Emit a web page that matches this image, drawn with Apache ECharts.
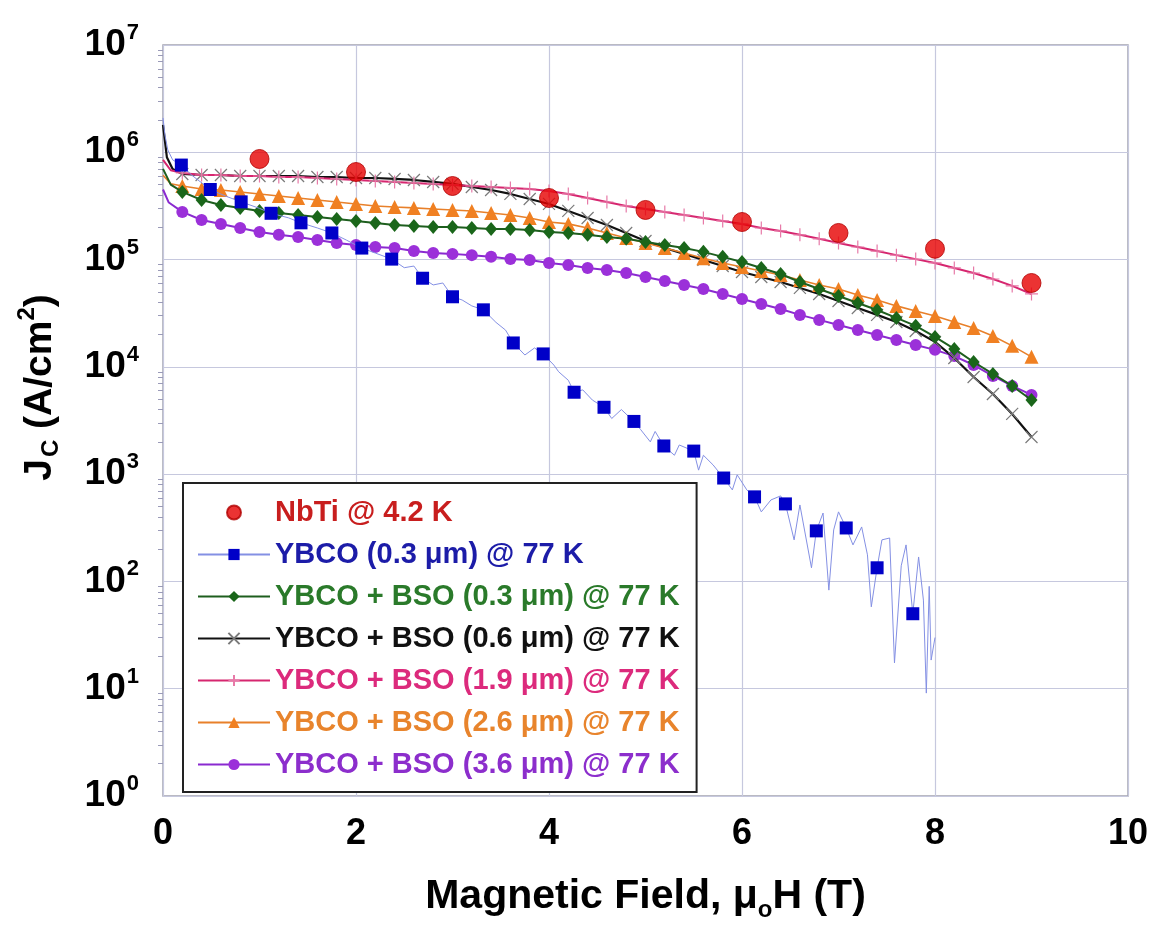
<!DOCTYPE html>
<html>
<head>
<meta charset="utf-8">
<title>Jc vs field</title>
<script src="https://cdn.jsdelivr.net/npm/echarts@6.0.0/dist/echarts.min.js"></script>
<style>
  html, body { margin: 0; padding: 0; background: #fff; }
  #chart { width: 1155px; height: 940px; }
</style>
</head>
<body>
<div id="chart"></div>
<script>
// field values (T) where the BSO samples have markers
const fieldX = [0.2, 0.4, 0.6, 0.8, 1.0, 1.2, 1.4, 1.6, 1.8, 2.0, 2.2, 2.4, 2.6, 2.8, 3.0,
  3.2, 3.4, 3.6, 3.8, 4.0, 4.2, 4.4, 4.6, 4.8, 5.0, 5.2, 5.4, 5.6, 5.8, 6.0,
  6.2, 6.4, 6.6, 6.8, 7.0, 7.2, 7.4, 7.6, 7.8, 8.0, 8.2, 8.4, 8.6, 8.8, 9.0];

// NbTi @ 4.2 K
const nbtiX = [1, 2, 3, 4, 5, 6, 7, 8, 9];
const nbtiY = [8.66e5, 6.55e5, 4.85e5, 3.75e5, 2.90e5, 2.24e5, 1.77e5, 1.26e5, 6.05e4];

// YBCO (0.3 um): square markers + noisy trace
const ybcoSqX = [0.19, 0.49, 0.81, 1.12, 1.43, 1.75, 2.06, 2.37, 2.69, 3.0, 3.32, 3.63, 3.94,
  4.26, 4.57, 4.88, 5.19, 5.5, 5.81, 6.13, 6.45, 6.77, 7.08, 7.4, 7.77];
const ybcoSqY = [7.6e5, 4.5e5, 3.45e5, 2.7e5, 2.2e5, 1.77e5, 1.28e5, 1.01e5, 6.7e4, 4.5e4, 3.4e4,
  1.67e4, 1.32e4, 5.8e3, 4.2e3, 3.1e3, 1.83e3, 1.64e3, 920, 614, 528, 296, 315, 134, 50];
const ybcoTraceX = [0, 0.02, 0.05, 0.1, 0.3, 0.65, 1.0, 1.3, 1.6, 1.9, 2.2, 2.5, 2.6, 2.8, 2.9,
  3.1, 3.2, 3.45, 3.55, 3.75, 3.85, 4.05, 4.1, 4.2, 4.35, 4.45, 4.65, 4.75, 4.95, 5.05,
  5.1, 5.3, 5.35, 5.55, 5.6, 5.7, 5.9, 5.95, 6.05, 6.2, 6.3, 6.4, 6.54, 6.6, 6.72,
  6.84, 6.9, 6.95, 7.0, 7.15, 7.24, 7.3, 7.34, 7.45, 7.53, 7.58, 7.65, 7.7, 7.83, 7.88,
  7.91, 7.94, 7.96, 8.0];
const ybcoTraceY = [2.09e6, 1.45e6, 1.05e6, 8.5e5, 6.1e5, 3.9e5, 3.0e5, 2.45e5, 1.97e5, 1.52e5,
  1.15e5, 8.4e4, 8.7e4, 5.8e4, 6.05e4, 4.2e4, 3.7e4, 2.6e4, 2.2e4, 1.29e4,
  1.5e4, 1.04e4, 9.0e3, 7.5e3, 6.1e3, 4.9e3, 3.3e3, 4.0e3, 2.6e3, 2.0e3,
  2.5e3, 1.5e3, 1.87e3, 1.09e3, 1.5e3, 1.22e3, 713, 985, 713, 445,
  575, 627, 244, 516, 134, 434, 83, 302, 445, 219,
  322, 177, 58, 244, 254, 17.4, 140, 219, 169, 67,
  9.1, 90, 18.5, 30];

// YBCO + BSO samples (lead = unmarked start of the curve near 0 T)
const bso03LeadX = [0, 0.08];
const bso03LeadY = [7.0e5, 5.0e5];
const bso03Y = [4.27e5, 3.59e5, 3.23e5, 3.03e5, 2.84e5, 2.72e5, 2.60e5, 2.49e5, 2.39e5, 2.29e5,
  2.19e5, 2.10e5, 2.06e5, 2.01e5, 2.01e5, 1.97e5, 1.93e5, 1.93e5, 1.89e5, 1.81e5,
  1.77e5, 1.70e5, 1.62e5, 1.56e5, 1.46e5, 1.37e5, 1.28e5, 1.18e5, 1.06e5, 9.50e4,
  8.35e4, 7.34e4, 6.18e4, 5.32e4, 4.58e4, 3.94e4, 3.39e4, 2.86e4, 2.41e4, 1.90e4,
  1.47e4, 1.11e4, 8.59e3, 6.64e3, 4.91e3];

const bso06LeadX = [0, 0.04, 0.1];
const bso06LeadY = [1.8e6, 9.0e5, 7.0e5];
const bso06Y = [6.28e5, 6.14e5, 6.14e5, 6.01e5, 6.01e5, 6.01e5, 6.01e5, 5.88e5, 5.88e5, 5.76e5,
  5.76e5, 5.64e5, 5.52e5, 5.29e5, 5.07e5, 4.75e5, 4.45e5, 4.09e5, 3.67e5, 3.30e5,
  2.84e5, 2.44e5, 2.10e5, 1.77e5, 1.49e5, 1.28e5, 1.13e5, 9.92e4, 8.71e4, 7.66e4,
  6.88e4, 6.18e4, 5.44e4, 4.78e4, 4.11e4, 3.54e4, 3.05e4, 2.62e4, 2.16e4, 1.71e4,
  1.21e4, 8.05e3, 5.59e3, 3.64e3, 2.22e3];

const bso19LeadX = [0, 0.08];
const bso19LeadY = [8.5e5, 6.8e5];
const bso19Y = [6.41e5, 6.14e5, 6.14e5, 6.01e5, 6.01e5, 5.88e5, 5.88e5, 5.76e5, 5.64e5, 5.52e5,
  5.40e5, 5.29e5, 5.18e5, 5.07e5, 4.96e5, 4.85e5, 4.75e5, 4.65e5, 4.55e5, 4.36e5,
  4.09e5, 3.75e5, 3.44e5, 3.16e5, 2.96e5, 2.78e5, 2.60e5, 2.44e5, 2.29e5, 2.15e5,
  1.97e5, 1.85e5, 1.70e5, 1.56e5, 1.43e5, 1.31e5, 1.20e5, 1.10e5, 1.01e5, 9.30e4,
  8.35e4, 7.50e4, 6.59e4, 5.68e4, 4.78e4];

const bso26LeadX = [0, 0.08];
const bso26LeadY = [6.1e5, 5.1e5];
const bso26Y = [4.85e5, 4.55e5, 4.45e5, 4.27e5, 4.09e5, 3.91e5, 3.75e5, 3.59e5, 3.44e5, 3.30e5,
  3.16e5, 3.09e5, 3.03e5, 2.96e5, 2.90e5, 2.84e5, 2.72e5, 2.60e5, 2.44e5, 2.24e5,
  2.15e5, 1.97e5, 1.77e5, 1.59e5, 1.43e5, 1.28e5, 1.15e5, 1.03e5, 9.30e4, 8.53e4,
  7.83e4, 7.19e4, 6.45e4, 5.80e4, 5.32e4, 4.68e4, 4.20e4, 3.70e4, 3.32e4, 2.98e4,
  2.62e4, 2.30e4, 1.94e4, 1.57e4, 1.24e4];

const bso36LeadX = [0, 0.06];
const bso36LeadY = [4.5e5, 3.4e5];
const bso36Y = [2.78e5, 2.34e5, 2.15e5, 1.97e5, 1.81e5, 1.70e5, 1.62e5, 1.52e5, 1.43e5, 1.37e5,
  1.31e5, 1.28e5, 1.20e5, 1.15e5, 1.13e5, 1.10e5, 1.06e5, 1.01e5, 9.92e4, 9.30e4,
  8.91e4, 8.35e4, 8.00e4, 7.50e4, 6.88e4, 6.32e4, 5.80e4, 5.32e4, 4.78e4, 4.29e4,
  3.86e4, 3.46e4, 3.05e4, 2.74e4, 2.46e4, 2.21e4, 1.98e4, 1.78e4, 1.60e4, 1.44e4,
  1.26e4, 1.04e4, 8.23e3, 6.64e3, 5.47e3];

const xTicks = [0, 2, 4, 6, 8, 10];

// 把 lead 点（无标记）和带标记的点拼起来
const curve = (leadX, leadY, ys) =>
  leadX.map((x, i) => ({ value: [x, leadY[i]], symbol: 'none' }))
    .concat(fieldX.map((x, i) => ({ value: [x, ys[i]] })));

const ybcoData = ybcoTraceX.map((x, i) => ({ value: [x, ybcoTraceY[i]], symbol: 'none' }))
  .concat(ybcoSqX.map((x, i) => ({ value: [x, ybcoSqY[i]] })))
  .sort((a, b) => a.value[0] - b.value[0]);

const FONT = "'Liberation Sans', Arial, sans-serif";

const chart = echarts.init(document.getElementById('chart'));
chart.setOption({
  animation: false,
  backgroundColor: '#fff',
  textStyle: { fontFamily: FONT },
  grid: {
    left: 163, right: 27, top: 45, bottom: 144,
    show: true,
    borderColor: '#a4a4b0',
    borderWidth: 1.5,
  },
  legend: {
    orient: 'vertical',
    left: 183,
    top: 483,
    padding: [15, 17, 13, 14],
    itemWidth: 72,
    itemHeight: 14,
    itemGap: 13,
    backgroundColor: '#fff',
    borderColor: '#222',
    borderWidth: 2,
    selectedMode: false,
    textStyle: { fontSize: 29, fontWeight: 'bold', fontFamily: FONT },
    data: [
      { name: 'NbTi @ 4.2 K', textStyle: { color: '#c81e1e' } },
      { name: 'YBCO (0.3 μm) @ 77 K', textStyle: { color: '#1c1ca8' } },
      { name: 'YBCO + BSO (0.3 μm) @ 77 K', textStyle: { color: '#2a7a2a' } },
      { name: 'YBCO + BSO (0.6 μm) @ 77 K', textStyle: { color: '#111' } },
      { name: 'YBCO + BSO (1.9 μm) @ 77 K', textStyle: { color: '#dc2a7c' } },
      { name: 'YBCO + BSO (2.6 μm) @ 77 K', textStyle: { color: '#e8842c' } },
      { name: 'YBCO + BSO (3.6 μm) @ 77 K', textStyle: { color: '#8c2ecc' } },
    ],
  },
  xAxis: {
    type: 'value',
    min: xTicks[0],
    max: xTicks[xTicks.length - 1],
    interval: 2,
    axisLine: { show: false },
    axisTick: { show: false },
    splitLine: { lineStyle: { color: '#c6c8de', width: 1.2 } },
    axisLabel: { fontSize: 36, fontWeight: 'bold', color: '#000', margin: 20 },
    name: '{a|Magnetic Field, μ}{s|o}{a|H (T)}',
    nameLocation: 'middle',
    nameGap: 76,
    nameTextStyle: {
      rich: {
        a: { fontSize: 41, fontWeight: 'bold', color: '#000', fontFamily: FONT },
        s: { fontSize: 24, fontWeight: 'bold', color: '#000', fontFamily: FONT, padding: [26, 0, 0, 0] },
      },
    },
  },
  yAxis: {
    type: 'log',
    logBase: 10,
    min: 1,
    max: 1e7,
    axisLine: { show: false },
    axisTick: { show: false },
    minorTick: { show: true, splitNumber: 9, length: 5, lineStyle: { color: '#9a9ab8' } },
    splitLine: { lineStyle: { color: '#c6c8de', width: 1.2 } },
    axisLabel: {
      margin: 24,
      formatter: (v) => '{b|10}{s|' + Math.round(Math.log10(v)) + '}',
      rich: {
        b: { fontSize: 37, fontWeight: 'bold', color: '#000', fontFamily: FONT },
        s: { fontSize: 22, fontWeight: 'bold', color: '#000', fontFamily: FONT, padding: [0, 0, 24, 1] },
      },
    },
    name: '{a|J}{c|C}{a| (A/cm}{p|2}{a|)}',
    nameLocation: 'middle',
    nameRotate: 90,
    nameGap: 98,
    nameTextStyle: {
      padding: [0, 0, 0, 66],
      rich: {
        a: { fontSize: 39, fontWeight: 'bold', color: '#000', fontFamily: FONT },
        c: { fontSize: 24, fontWeight: 'bold', color: '#000', fontFamily: FONT, padding: [22, 0, 0, 2] },
        p: { fontSize: 24, fontWeight: 'bold', color: '#000', fontFamily: FONT, padding: [0, 0, 26, 0] },
      },
    },
  },
  series: [
    {
      name: 'YBCO + BSO (3.6 μm) @ 77 K',
      type: 'line',
      data: curve(bso36LeadX, bso36LeadY, bso36Y),
      symbol: 'circle',
      symbolSize: 12,
      itemStyle: { color: '#9b30d9' },
      lineStyle: { color: '#8a2ad0', width: 2 },
      z: 2,
    },
    {
      name: 'YBCO + BSO (0.6 μm) @ 77 K',
      type: 'line',
      data: curve(bso06LeadX, bso06LeadY, bso06Y),
      symbol: 'path://M0,0L10,10M10,0L0,10',
      symbolSize: 12,
      itemStyle: { color: 'none', borderColor: '#7a7a7a', borderWidth: 1.2 },
      lineStyle: { color: '#111', width: 2.2 },
      z: 3,
    },
    {
      name: 'YBCO + BSO (1.9 μm) @ 77 K',
      type: 'line',
      data: curve(bso19LeadX, bso19LeadY, bso19Y),
      symbol: 'path://M5,0L5,10M0,5L10,5',
      symbolSize: 13,
      itemStyle: { color: 'none', borderColor: '#e77aa8', borderWidth: 1.2 },
      lineStyle: { color: '#d6266f', width: 2 },
      z: 3,
    },
    {
      name: 'YBCO + BSO (2.6 μm) @ 77 K',
      type: 'line',
      data: curve(bso26LeadX, bso26LeadY, bso26Y),
      symbol: 'triangle',
      symbolSize: 14,
      itemStyle: { color: '#f08022' },
      lineStyle: { color: '#e8802a', width: 1.6 },
      z: 4,
    },
    {
      name: 'YBCO + BSO (0.3 μm) @ 77 K',
      type: 'line',
      data: curve(bso03LeadX, bso03LeadY, bso03Y),
      symbol: 'diamond',
      symbolSize: [12, 14],
      itemStyle: { color: '#1a661a' },
      lineStyle: { color: '#1e5e1e', width: 2 },
      z: 5,
    },
    {
      name: 'YBCO (0.3 μm) @ 77 K',
      type: 'line',
      data: ybcoData,
      symbol: 'rect',
      symbolSize: 13,
      itemStyle: { color: '#0000c8' },
      lineStyle: { color: '#8490e4', width: 1 },
      z: 6,
    },
    {
      name: 'NbTi @ 4.2 K',
      type: 'scatter',
      data: nbtiX.map((x, i) => [x, nbtiY[i]]),
      symbol: 'circle',
      symbolSize: 19,
      itemStyle: { color: '#e60000', borderColor: '#b00000', borderWidth: 1 },
      z: 7,
    },
  ],
});
</script>
</body>
</html>
